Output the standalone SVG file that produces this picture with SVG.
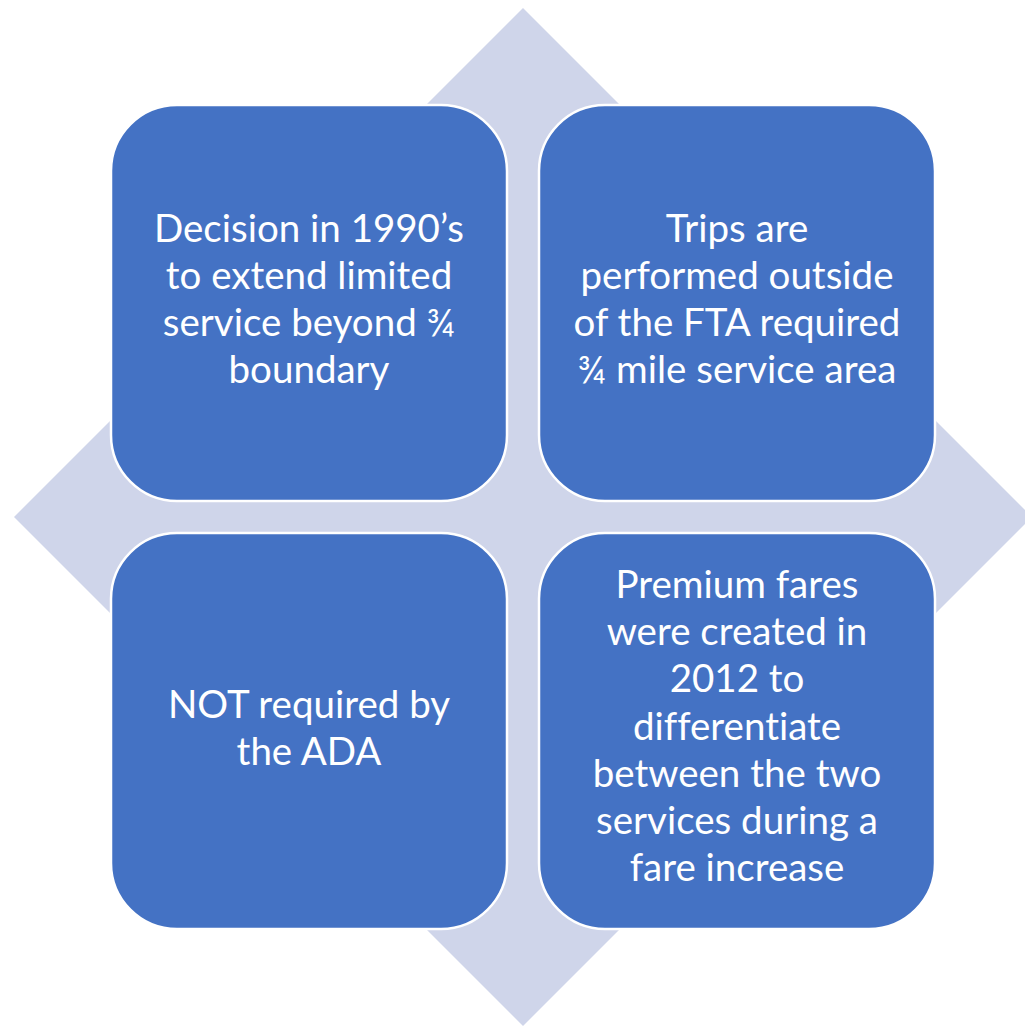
<svg xmlns="http://www.w3.org/2000/svg" width="1025" height="1026" viewBox="0 0 1025 1026">
<style>
.bg{fill:#CFD5EA}
.box{fill:#4472C4;stroke:#FFFFFF;stroke-width:2.5}
.t{font-family:Lato,"Open Sans","Liberation Sans",sans-serif;font-size:38.5px;fill:#FFFFFF;text-anchor:middle;font-variant-ligatures:none;font-feature-settings:"liga" 0,"dlig" 0}
</style>
<rect width="1025" height="1026" fill="#FFFFFF"/>
<g id="diamond"><polygon class="bg" points="523,8 1032,517 523,1026 14,517"/></g>
<g id="connectors"></g>
<g id="node1">
<rect class="box" x="111" y="105" width="396" height="396" rx="66" ry="66"/>
<text class="t" x="309" y="242">Decision in 1990’s</text>
<text class="t" x="309" y="289">to extend limited</text>
<text class="t" x="309" y="336">service beyond ¾</text>
<text class="t" x="309" y="383">boundary</text>
</g>
<g id="node2">
<rect class="box" x="539" y="105" width="396" height="396" rx="66" ry="66"/>
<text class="t" x="737" y="242">Trips are</text>
<text class="t" x="737" y="289">performed outside</text>
<text class="t" x="737" y="336">of the FTA required</text>
<text class="t" x="737" y="383">¾ mile service area</text>
</g>
<g id="node3">
<rect class="box" x="111" y="533" width="396" height="396" rx="66" ry="66"/>
<text class="t" x="309" y="718">NOT required by</text>
<text class="t" x="309" y="765">the ADA</text>
</g>
<g id="node4">
<rect class="box" x="539" y="533" width="396" height="396" rx="66" ry="66"/>
<text class="t" x="737" y="598">Premium fares</text>
<text class="t" x="737" y="645">were created in</text>
<text class="t" x="737" y="692">2012 to</text>
<text class="t" x="737" y="740">differentiate</text>
<text class="t" x="737" y="787">between the two</text>
<text class="t" x="737" y="834">services during a</text>
<text class="t" x="737" y="881">fare increase</text>
</g>
</svg>
